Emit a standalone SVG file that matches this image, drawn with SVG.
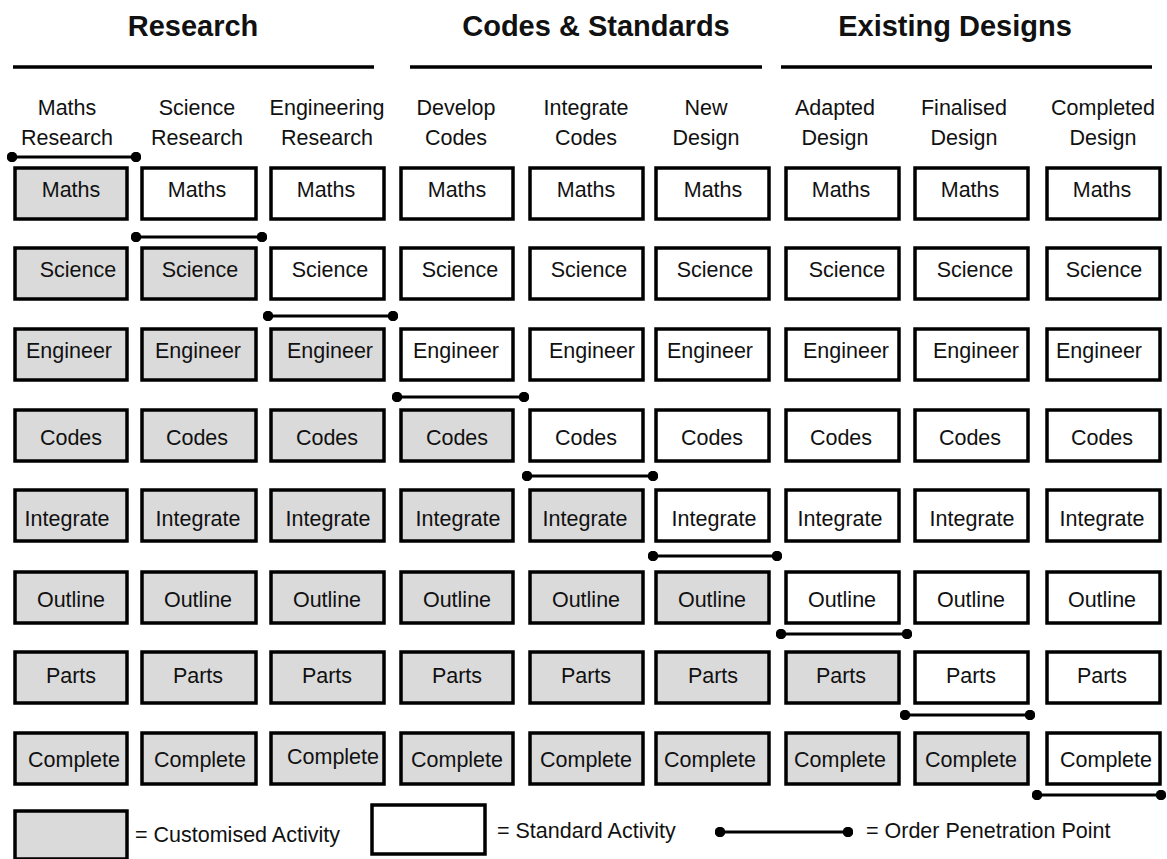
<svg xmlns="http://www.w3.org/2000/svg" width="1167" height="859" viewBox="0 0 1167 859">
<style>
text{font-family:"Liberation Sans",Arial,sans-serif;fill:#111;}
.h{font-size:29px;font-weight:bold;text-anchor:middle;}
.c{font-size:21.5px;text-anchor:middle;}
.t{font-size:21.5px;text-anchor:middle;}
.l{font-size:21.5px;}
.box{stroke:#000;stroke-width:3.5;fill:#fff;}
.cu{fill:#dadada;}
.opp{stroke:#000;stroke-width:3;}
.rule{stroke:#000;stroke-width:3.5;}
</style>
<defs>
<marker id="dot" viewBox="0 0 10 10" refX="5" refY="5" markerWidth="3.5" markerHeight="3.5" markerUnits="strokeWidth"><circle cx="5" cy="5" r="5" fill="#000"/></marker>
</defs>
<rect width="1167" height="859" fill="#fff"/>
<g id="headings">
<text class="h" x="193" y="36">Research</text>
<text class="h" x="596" y="36">Codes &amp; Standards</text>
<text class="h" x="955" y="36">Existing Designs</text>
<line class="rule" x1="13" y1="67" x2="374" y2="67"/>
<line class="rule" x1="410" y1="67" x2="762" y2="67"/>
<line class="rule" x1="781" y1="67" x2="1152" y2="67"/>
</g>
<g id="column-headers">
<text class="c" x="67" y="115">Maths</text><text class="c" x="67" y="145">Research</text>
<text class="c" x="197" y="115">Science</text><text class="c" x="197" y="145">Research</text>
<text class="c" x="327" y="115">Engineering</text><text class="c" x="327" y="145">Research</text>
<text class="c" x="456" y="115">Develop</text><text class="c" x="456" y="145">Codes</text>
<text class="c" x="586" y="115">Integrate</text><text class="c" x="586" y="145">Codes</text>
<text class="c" x="706" y="115">New</text><text class="c" x="706" y="145">Design</text>
<text class="c" x="835" y="115">Adapted</text><text class="c" x="835" y="145">Design</text>
<text class="c" x="964" y="115">Finalised</text><text class="c" x="964" y="145">Design</text>
<text class="c" x="1103" y="115">Completed</text><text class="c" x="1103" y="145">Design</text>
</g>
<g id="col1">
<g id="n1-1"><rect class="box cu" x="15" y="168" width="112" height="51"/><text class="t" x="71" y="197">Maths</text></g>
<g id="n1-2"><rect class="box cu" x="15" y="248" width="112" height="51"/><text class="t" x="78" y="277">Science</text></g>
<g id="n1-3"><rect class="box cu" x="15" y="329" width="112" height="51"/><text class="t" x="69" y="358">Engineer</text></g>
<g id="n1-4"><rect class="box cu" x="15" y="410" width="112" height="51"/><text class="t" x="71" y="445">Codes</text></g>
<g id="n1-5"><rect class="box cu" x="15" y="490" width="112" height="51"/><text class="t" x="67" y="526">Integrate</text></g>
<g id="n1-6"><rect class="box cu" x="15" y="572" width="112" height="51"/><text class="t" x="71" y="607">Outline</text></g>
<g id="n1-7"><rect class="box cu" x="15" y="652" width="112" height="51"/><text class="t" x="71" y="683">Parts</text></g>
<g id="n1-8"><rect class="box cu" x="15" y="733" width="112" height="51"/><text class="t" x="74" y="767">Complete</text></g>
</g>
<g id="col2">
<g id="n2-1"><rect class="box" x="142" y="168" width="114" height="51"/><text class="t" x="197" y="197">Maths</text></g>
<g id="n2-2"><rect class="box cu" x="142" y="248" width="114" height="51"/><text class="t" x="200" y="277">Science</text></g>
<g id="n2-3"><rect class="box cu" x="142" y="329" width="114" height="51"/><text class="t" x="198" y="358">Engineer</text></g>
<g id="n2-4"><rect class="box cu" x="142" y="410" width="114" height="51"/><text class="t" x="197" y="445">Codes</text></g>
<g id="n2-5"><rect class="box cu" x="142" y="490" width="114" height="51"/><text class="t" x="198" y="526">Integrate</text></g>
<g id="n2-6"><rect class="box cu" x="142" y="572" width="114" height="51"/><text class="t" x="198" y="607">Outline</text></g>
<g id="n2-7"><rect class="box cu" x="142" y="652" width="114" height="51"/><text class="t" x="198" y="683">Parts</text></g>
<g id="n2-8"><rect class="box cu" x="142" y="733" width="114" height="51"/><text class="t" x="200" y="767">Complete</text></g>
</g>
<g id="col3">
<g id="n3-1"><rect class="box" x="271" y="168" width="113" height="51"/><text class="t" x="326" y="197">Maths</text></g>
<g id="n3-2"><rect class="box" x="271" y="248" width="113" height="51"/><text class="t" x="330" y="277">Science</text></g>
<g id="n3-3"><rect class="box cu" x="271" y="329" width="113" height="51"/><text class="t" x="330" y="358">Engineer</text></g>
<g id="n3-4"><rect class="box cu" x="271" y="410" width="113" height="51"/><text class="t" x="327" y="445">Codes</text></g>
<g id="n3-5"><rect class="box cu" x="271" y="490" width="113" height="51"/><text class="t" x="328" y="526">Integrate</text></g>
<g id="n3-6"><rect class="box cu" x="271" y="572" width="113" height="51"/><text class="t" x="327" y="607">Outline</text></g>
<g id="n3-7"><rect class="box cu" x="271" y="652" width="113" height="51"/><text class="t" x="327" y="683">Parts</text></g>
<g id="n3-8"><rect class="box cu" x="271" y="733" width="113" height="51"/><text class="t" x="333" y="764">Complete</text></g>
</g>
<g id="col4">
<g id="n4-1"><rect class="box" x="401" y="168" width="112" height="51"/><text class="t" x="457" y="197">Maths</text></g>
<g id="n4-2"><rect class="box" x="401" y="248" width="112" height="51"/><text class="t" x="460" y="277">Science</text></g>
<g id="n4-3"><rect class="box" x="401" y="329" width="112" height="51"/><text class="t" x="456" y="358">Engineer</text></g>
<g id="n4-4"><rect class="box cu" x="401" y="410" width="112" height="51"/><text class="t" x="457" y="445">Codes</text></g>
<g id="n4-5"><rect class="box cu" x="401" y="490" width="112" height="51"/><text class="t" x="458" y="526">Integrate</text></g>
<g id="n4-6"><rect class="box cu" x="401" y="572" width="112" height="51"/><text class="t" x="457" y="607">Outline</text></g>
<g id="n4-7"><rect class="box cu" x="401" y="652" width="112" height="51"/><text class="t" x="457" y="683">Parts</text></g>
<g id="n4-8"><rect class="box cu" x="401" y="733" width="112" height="51"/><text class="t" x="457" y="767">Complete</text></g>
</g>
<g id="col5">
<g id="n5-1"><rect class="box" x="530" y="168" width="113" height="51"/><text class="t" x="586" y="197">Maths</text></g>
<g id="n5-2"><rect class="box" x="530" y="248" width="113" height="51"/><text class="t" x="589" y="277">Science</text></g>
<g id="n5-3"><rect class="box" x="530" y="329" width="113" height="51"/><text class="t" x="592" y="358">Engineer</text></g>
<g id="n5-4"><rect class="box" x="530" y="410" width="113" height="51"/><text class="t" x="586" y="445">Codes</text></g>
<g id="n5-5"><rect class="box cu" x="530" y="490" width="113" height="51"/><text class="t" x="585" y="526">Integrate</text></g>
<g id="n5-6"><rect class="box cu" x="530" y="572" width="113" height="51"/><text class="t" x="586" y="607">Outline</text></g>
<g id="n5-7"><rect class="box cu" x="530" y="652" width="113" height="51"/><text class="t" x="586" y="683">Parts</text></g>
<g id="n5-8"><rect class="box cu" x="530" y="733" width="113" height="51"/><text class="t" x="586" y="767">Complete</text></g>
</g>
<g id="col6">
<g id="n6-1"><rect class="box" x="656" y="168" width="113" height="51"/><text class="t" x="713" y="197">Maths</text></g>
<g id="n6-2"><rect class="box" x="656" y="248" width="113" height="51"/><text class="t" x="715" y="277">Science</text></g>
<g id="n6-3"><rect class="box" x="656" y="329" width="113" height="51"/><text class="t" x="710" y="358">Engineer</text></g>
<g id="n6-4"><rect class="box" x="656" y="410" width="113" height="51"/><text class="t" x="712" y="445">Codes</text></g>
<g id="n6-5"><rect class="box" x="656" y="490" width="113" height="51"/><text class="t" x="714" y="526">Integrate</text></g>
<g id="n6-6"><rect class="box cu" x="656" y="572" width="113" height="51"/><text class="t" x="712" y="607">Outline</text></g>
<g id="n6-7"><rect class="box cu" x="656" y="652" width="113" height="51"/><text class="t" x="713" y="683">Parts</text></g>
<g id="n6-8"><rect class="box cu" x="656" y="733" width="113" height="51"/><text class="t" x="710" y="767">Complete</text></g>
</g>
<g id="col7">
<g id="n7-1"><rect class="box" x="786" y="168" width="113" height="51"/><text class="t" x="841" y="197">Maths</text></g>
<g id="n7-2"><rect class="box" x="786" y="248" width="113" height="51"/><text class="t" x="847" y="277">Science</text></g>
<g id="n7-3"><rect class="box" x="786" y="329" width="113" height="51"/><text class="t" x="846" y="358">Engineer</text></g>
<g id="n7-4"><rect class="box" x="786" y="410" width="113" height="51"/><text class="t" x="841" y="445">Codes</text></g>
<g id="n7-5"><rect class="box" x="786" y="490" width="113" height="51"/><text class="t" x="840" y="526">Integrate</text></g>
<g id="n7-6"><rect class="box" x="786" y="572" width="113" height="51"/><text class="t" x="842" y="607">Outline</text></g>
<g id="n7-7"><rect class="box cu" x="786" y="652" width="113" height="51"/><text class="t" x="841" y="683">Parts</text></g>
<g id="n7-8"><rect class="box cu" x="786" y="733" width="113" height="51"/><text class="t" x="840" y="767">Complete</text></g>
</g>
<g id="col8">
<g id="n8-1"><rect class="box" x="915" y="168" width="113" height="51"/><text class="t" x="970" y="197">Maths</text></g>
<g id="n8-2"><rect class="box" x="915" y="248" width="113" height="51"/><text class="t" x="975" y="277">Science</text></g>
<g id="n8-3"><rect class="box" x="915" y="329" width="113" height="51"/><text class="t" x="976" y="358">Engineer</text></g>
<g id="n8-4"><rect class="box" x="915" y="410" width="113" height="51"/><text class="t" x="970" y="445">Codes</text></g>
<g id="n8-5"><rect class="box" x="915" y="490" width="113" height="51"/><text class="t" x="972" y="526">Integrate</text></g>
<g id="n8-6"><rect class="box" x="915" y="572" width="113" height="51"/><text class="t" x="971" y="607">Outline</text></g>
<g id="n8-7"><rect class="box" x="915" y="652" width="113" height="51"/><text class="t" x="971" y="683">Parts</text></g>
<g id="n8-8"><rect class="box cu" x="915" y="733" width="113" height="51"/><text class="t" x="971" y="767">Complete</text></g>
</g>
<g id="col9">
<g id="n9-1"><rect class="box" x="1047" y="168" width="113" height="51"/><text class="t" x="1102" y="197">Maths</text></g>
<g id="n9-2"><rect class="box" x="1047" y="248" width="113" height="51"/><text class="t" x="1104" y="277">Science</text></g>
<g id="n9-3"><rect class="box" x="1047" y="329" width="113" height="51"/><text class="t" x="1099" y="358">Engineer</text></g>
<g id="n9-4"><rect class="box" x="1047" y="410" width="113" height="51"/><text class="t" x="1102" y="445">Codes</text></g>
<g id="n9-5"><rect class="box" x="1047" y="490" width="113" height="51"/><text class="t" x="1102" y="526">Integrate</text></g>
<g id="n9-6"><rect class="box" x="1047" y="572" width="113" height="51"/><text class="t" x="1102" y="607">Outline</text></g>
<g id="n9-7"><rect class="box" x="1047" y="652" width="113" height="51"/><text class="t" x="1102" y="683">Parts</text></g>
<g id="n9-8"><rect class="box" x="1047" y="733" width="113" height="51"/><text class="t" x="1106" y="767">Complete</text></g>
</g>
<g id="connectors">
<line class="opp" x1="12" y1="157" x2="136" y2="157" marker-start="url(#dot)" marker-end="url(#dot)"/>
<line class="opp" x1="136" y1="237" x2="262" y2="237" marker-start="url(#dot)" marker-end="url(#dot)"/>
<line class="opp" x1="268" y1="316" x2="393" y2="316" marker-start="url(#dot)" marker-end="url(#dot)"/>
<line class="opp" x1="397" y1="397" x2="524" y2="397" marker-start="url(#dot)" marker-end="url(#dot)"/>
<line class="opp" x1="527" y1="476" x2="653" y2="476" marker-start="url(#dot)" marker-end="url(#dot)"/>
<line class="opp" x1="653" y1="556" x2="777" y2="556" marker-start="url(#dot)" marker-end="url(#dot)"/>
<line class="opp" x1="781" y1="634" x2="907" y2="634" marker-start="url(#dot)" marker-end="url(#dot)"/>
<line class="opp" x1="905" y1="715" x2="1030" y2="715" marker-start="url(#dot)" marker-end="url(#dot)"/>
<line class="opp" x1="1037" y1="795" x2="1161" y2="795" marker-start="url(#dot)" marker-end="url(#dot)"/>
</g>
<g id="legend">
<rect class="box cu" x="15" y="811" width="112" height="48"/>
<text class="l" x="135" y="842">= Customised Activity</text>
<rect class="box" x="372" y="805" width="113" height="49"/>
<text class="l" x="497" y="838">= Standard Activity</text>
<line class="opp" x1="720" y1="832" x2="848" y2="832" marker-start="url(#dot)" marker-end="url(#dot)"/>
<text class="l" x="866" y="838">= Order Penetration Point</text>
</g>
</svg>
